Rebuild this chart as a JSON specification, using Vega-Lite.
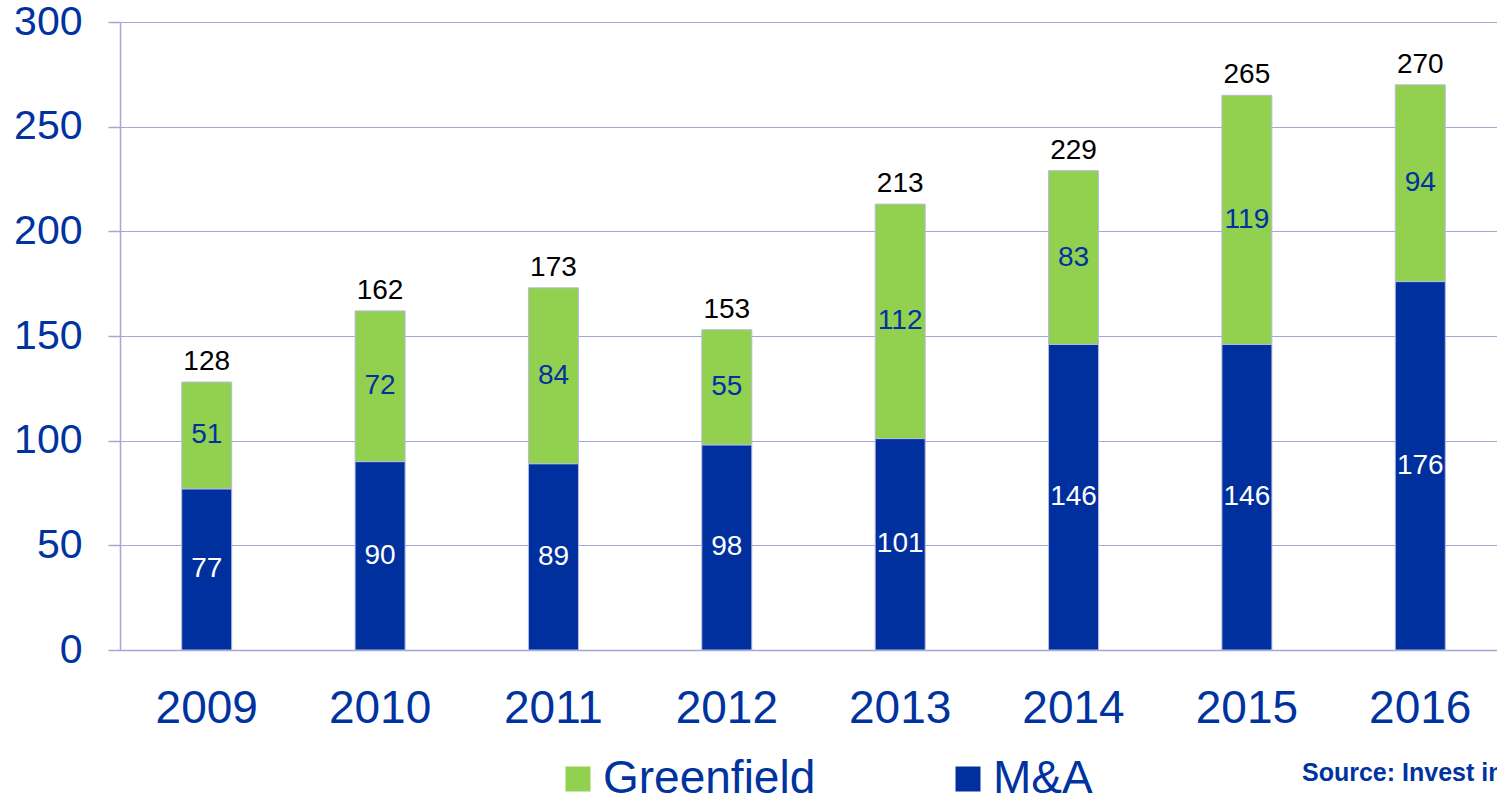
{
  "$schema": "https://vega.github.io/schema/vega-lite/v6.json",
  "width": 1377,
  "height": 628,
  "autosize": {"type": "none"},
  "padding": {"left": 120, "top": 22, "right": 0, "bottom": 150},
  "background": "white",
  "config": {
    "view": {"stroke": null},
    "font": "Arial, Liberation Sans, sans-serif"
  },
  "title": {
    "text": "Source: Invest in Finland",
    "orient": "bottom",
    "anchor": "start",
    "frame": "group",
    "dx": 1182,
    "offset": -62,
    "fontSize": 25,
    "fontWeight": "bold",
    "color": "#0033A0",
    "font": "Arial, Liberation Sans, sans-serif"
  },
  "data": {
    "values": [
      {"year": "2009", "type": "M&A", "value": 77},
      {"year": "2009", "type": "Greenfield", "value": 51},
      {"year": "2010", "type": "M&A", "value": 90},
      {"year": "2010", "type": "Greenfield", "value": 72},
      {"year": "2011", "type": "M&A", "value": 89},
      {"year": "2011", "type": "Greenfield", "value": 84},
      {"year": "2012", "type": "M&A", "value": 98},
      {"year": "2012", "type": "Greenfield", "value": 55},
      {"year": "2013", "type": "M&A", "value": 101},
      {"year": "2013", "type": "Greenfield", "value": 112},
      {"year": "2014", "type": "M&A", "value": 146},
      {"year": "2014", "type": "Greenfield", "value": 83},
      {"year": "2015", "type": "M&A", "value": 146},
      {"year": "2015", "type": "Greenfield", "value": 119},
      {"year": "2016", "type": "M&A", "value": 176},
      {"year": "2016", "type": "Greenfield", "value": 94}
    ]
  },
  "transform": [
    {"stack": "value", "groupby": ["year"], "sort": [{"field": "type", "order": "descending"}], "as": ["v0", "v1"]},
    {"calculate": "(datum.v0 + datum.v1) / 2", "as": "mid"}
  ],
  "encoding": {
    "x": {
      "field": "year",
      "type": "ordinal",
      "scale": {"range": [0, 1387], "paddingInner": 0.7115, "paddingOuter": 0.356},
      "axis": {
        "title": "INVEST IN FINLAND\u00a0\u00a0|\u00a0\u00a0FINPRO",
        "titleAnchor": "start",
        "titleX": -104,
        "titleY": 148,
        "titleBaseline": "top",
        "titleFontSize": 25,
        "titleFontWeight": "bold",
        "titleColor": "#0033A0",
        "titleLimit": 600,
        "labelAngle": 0,
        "labelFontSize": 46,
        "labelColor": "#0033A0",
        "labelPadding": 36,
        "ticks": false,
        "domainColor": "#A4A6D4",
        "domainWidth": 1.5
      }
    }
  },
  "layer": [
    {
      "mark": {"type": "bar", "stroke": "#B8BAE2", "strokeWidth": 1},
      "encoding": {
        "y": {
          "field": "v0",
          "type": "quantitative",
          "scale": {"domain": [0, 300]},
          "axis": {
            "title": null,
            "values": [0, 50, 100, 150, 200, 250, 300],
            "labelFontSize": 41,
            "labelColor": "#0033A0",
            "labelPadding": 26,
            "tickSize": 12,
            "tickColor": "#A4A6D4",
            "tickWidth": 1.5,
            "domainColor": "#A4A6D4",
            "domainWidth": 1.5,
            "gridColor": "#A4A6D4",
            "gridWidth": 1.2
          }
        },
        "y2": {"field": "v1"},
        "color": {
          "field": "type",
          "type": "nominal",
          "scale": {"domain": ["Greenfield", "M&A"], "range": ["#92D050", "#00309E"]},
          "legend": {
            "title": null,
            "orient": "none",
            "legendX": 435,
            "legendY": 734,
            "direction": "horizontal",
            "symbolType": "square",
            "symbolSize": 625,
            "symbolStrokeWidth": 0,
            "labelFontSize": 46,
            "labelLimit": 500,
            "labelColor": "#0033A0",
            "labelOffset": 2,
            "columnPadding": 129,
            "padding": 0
          }
        }
      }
    },
    {
      "mark": {"type": "text", "fontSize": 28, "baseline": "middle"},
      "encoding": {
        "y": {"field": "mid", "type": "quantitative"},
        "text": {"field": "value", "type": "quantitative"},
        "color": {
          "condition": {"test": "datum.type === 'M&A'", "value": "white"},
          "value": "#0033A0"
        }
      }
    },
    {
      "transform": [{"filter": "datum.type === 'Greenfield'"}],
      "mark": {"type": "text", "fontSize": 28, "baseline": "alphabetic", "dy": -12, "color": "black"},
      "encoding": {
        "y": {"field": "v1", "type": "quantitative"},
        "text": {"field": "v1", "type": "quantitative"}
      }
    }
  ]
}
